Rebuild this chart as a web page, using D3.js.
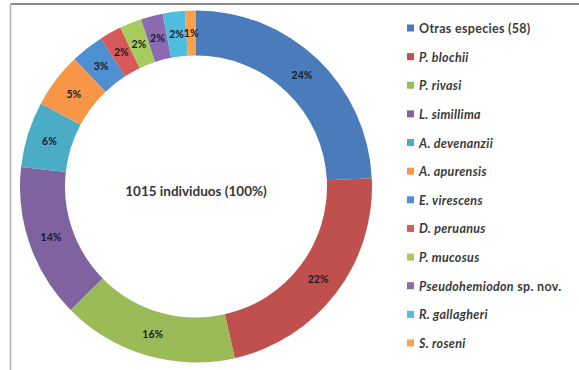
<!DOCTYPE html>
<html>
<head>
<meta charset="utf-8">
<script src="https://cdn.jsdelivr.net/npm/d3@7"></script>
<style>
  html, body { margin: 0; padding: 0; background: #fff; }
  svg { display: block; }
</style>
</head>
<body>
<svg id="chart" width="579" height="370"></svg>
<script>
// Species groups (clockwise from 12 o'clock) and their share of the 1015 individuals
const species = [
  "Otras especies (58)", "P. blochii", "P. rivasi", "L. simillima",
  "A. devenanzii", "A. apurensis", "E. virescens", "D. peruanus",
  "P. mucosus", "Pseudohemiodon sp. nov.", "R. gallagheri", "S. roseni"
];
const percents = [24, 22, 16, 14, 6, 5, 3, 2, 2, 2, 2, 1];
// Part of each legend name set in italics (the rest is upright)
const italicPart = [
  "", "P. blochii", "P. rivasi", "L. simillima",
  "A. devenanzii", "A. apurensis", "E. virescens", "D. peruanus",
  "P. mucosus", "Pseudohemiodon", "R. gallagheri", "S. roseni"
];
const colors = [
  "#4a7bba", "#c0504d", "#9bbb59", "#7f62a0", "#4bacc6", "#f79646",
  "#4d8fd1", "#d65a57", "#a6cc5e", "#8a6bb2", "#4fbde0", "#f9a24c"
];
const centerText = "1015 individuos (100%)";

const svg = d3.select("#chart");
const W = 579, H = 370;

// frame lines (top and left edges)
svg.append("line").attr("x1", 10.5).attr("y1", 4).attr("x2", W).attr("y2", 4)
  .attr("stroke", "#8c8c8c").attr("stroke-width", 2);
svg.append("line").attr("x1", 10.5).attr("y1", 4).attr("x2", 10.5).attr("y2", H)
  .attr("stroke", "#b5b5b5").attr("stroke-width", 1.5);

const cx = 196, cy = 186.5;
const rOuter = 176, rInner = 131;

const data = species.map((name, i) => ({ name, value: percents[i], color: colors[i], italic: italicPart[i] }));

const pie = d3.pie().value(d => d.value).sort(null);
const arc = d3.arc().innerRadius(rInner).outerRadius(rOuter);
const arcs = pie(data);

const g = svg.append("g").attr("transform", `translate(${cx},${cy})`);

g.selectAll("path.slice")
  .data(arcs)
  .join("path")
  .attr("class", "slice")
  .attr("d", arc)
  .attr("fill", d => d.data.color);

g.selectAll("text.pct")
  .data(arcs)
  .join("text")
  .attr("class", "pct")
  .attr("transform", d => `translate(${arc.centroid(d)})`)
  .attr("text-anchor", "middle")
  .attr("dominant-baseline", "central")
  .attr("font-family", "Lato, 'Open Sans', sans-serif")
  .attr("font-weight", "bold")
  .attr("font-size", 10.5)
  .attr("fill", "#1a1c2a")
  .text(d => d.data.value + "%");

g.append("text")
  .attr("x", 0).attr("y", 4)
  .attr("text-anchor", "middle")
  .attr("dominant-baseline", "central")
  .attr("font-family", "Lato, 'Open Sans', sans-serif")
  .attr("font-weight", "bold")
  .attr("font-size", 13.5)
  .attr("fill", "#363636")
  .text(centerText);

// legend
const legendY = d3.scalePoint().domain(species).range([28, 343]);
const legend = svg.append("g").attr("font-family", "Lato, 'Open Sans', sans-serif");

const items = legend.selectAll("g.item")
  .data(data)
  .join("g")
  .attr("class", "item")
  .attr("transform", d => `translate(407,${legendY(d.name)})`);

items.append("rect")
  .attr("x", 0).attr("y", -3.5).attr("width", 7).attr("height", 7)
  .attr("fill", d => d.color);

items.append("text")
  .attr("x", 12).attr("y", 0)
  .attr("dominant-baseline", "central")
  .attr("font-size", 12.5)
  .attr("letter-spacing", 0.3)
  .attr("font-weight", "bold")
  .attr("fill", "#3a3a3a")
  .each(function(d) {
    const t = d3.select(this);
    if (d.italic) {
      t.append("tspan").attr("font-style", "italic").text(d.italic);
      const rest = d.name.slice(d.italic.length);
      if (rest) t.append("tspan").text(rest);
    } else {
      t.text(d.name);
    }
  });
</script>
</body>
</html>
